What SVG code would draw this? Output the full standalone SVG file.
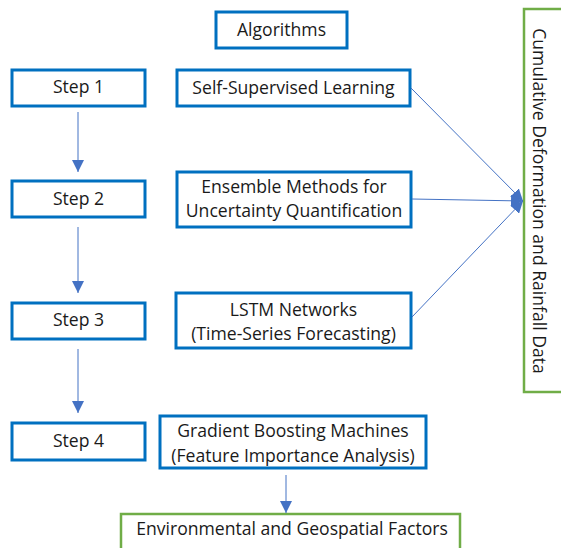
<svg xmlns="http://www.w3.org/2000/svg" width="561" height="548" viewBox="0 0 561 548">
<defs>
<style>
.b{fill:#fff;stroke:#0070C0;stroke-width:3}
.g{fill:#fff;stroke:#70AD47;stroke-width:2.5}
.t{font-family:"Open Sans","Liberation Sans",sans-serif;font-size:17.6px;fill:#1a1a1a;text-anchor:middle}
.c{stroke:#4472C4;stroke-width:1;fill:none}
</style>
<marker id="ah" viewBox="0 0 10 10" refX="10" refY="5" markerWidth="12" markerHeight="12" markerUnits="userSpaceOnUse" orient="auto">
<path d="M0,0 L10,5 L0,10 Z" fill="#4472C4"/>
</marker>
</defs>
<rect width="561" height="548" fill="#fff"/>
<g id="algorithms"><rect class="b" x="216" y="12" width="131" height="36"/><text class="t" x="281.5" y="36">Algorithms</text></g>
<g id="step1"><rect class="b" x="12" y="70" width="133" height="36"/><text class="t" x="78.5" y="93">Step 1</text></g>
<g id="step2"><rect class="b" x="12" y="181" width="133" height="36"/><text class="t" x="78.5" y="205">Step 2</text></g>
<g id="step3"><rect class="b" x="12" y="303" width="133" height="36"/><text class="t" x="78.5" y="326">Step 3</text></g>
<g id="step4"><rect class="b" x="12" y="423" width="133" height="37"/><text class="t" x="78.5" y="447">Step 4</text></g>
<g id="ssl"><rect class="b" x="177" y="70" width="233" height="36"/><text class="t" x="293.5" y="94">Self-Supervised Learning</text></g>
<g id="ensemble"><rect class="b" x="177" y="172" width="234" height="55"/><text class="t" x="294" y="193">Ensemble Methods for</text><text class="t" x="294" y="217">Uncertainty Quantification</text></g>
<g id="lstm"><rect class="b" x="176" y="293" width="235" height="55"/><text class="t" x="293.5" y="316">LSTM Networks</text><text class="t" x="293.5" y="340">(Time-Series Forecasting)</text></g>
<g id="gbm"><rect class="b" x="160" y="416" width="266" height="52"/><text class="t" x="293" y="437">Gradient Boosting Machines</text><text class="t" x="293" y="462">(Feature Importance Analysis)</text></g>
<g id="cumulative"><rect class="g" x="524" y="9" width="45" height="383"/><text class="t" transform="translate(533,201) rotate(90)" x="0" y="0">Cumulative Deformation and Rainfall Data</text></g>
<g id="environmental"><rect class="g" x="121" y="514" width="339" height="45"/><text class="t" x="292" y="535">Environmental and Geospatial Factors</text></g>
<g id="connectors">
<line class="c" x1="78" y1="112" x2="78" y2="172" marker-end="url(#ah)"/>
<line class="c" x1="78" y1="227" x2="78" y2="293" marker-end="url(#ah)"/>
<line class="c" x1="78" y1="349" x2="78" y2="413" marker-end="url(#ah)"/>
<line class="c" x1="286" y1="475" x2="286" y2="513" marker-end="url(#ah)"/>
<line class="c" x1="411" y1="88" x2="523" y2="201" marker-end="url(#ah)"/>
<line class="c" x1="412" y1="199" x2="523" y2="201" marker-end="url(#ah)"/>
<line class="c" x1="412" y1="317" x2="523" y2="201" marker-end="url(#ah)"/>
</g>
</svg>
